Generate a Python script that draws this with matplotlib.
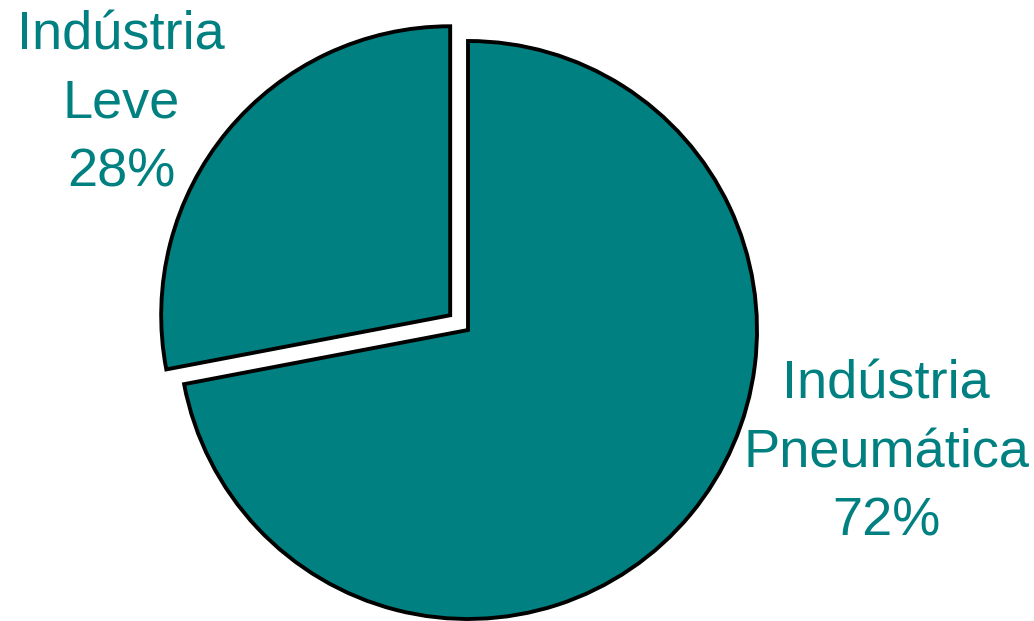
import matplotlib.pyplot as plt

labels = ["Indústria\nPneumática\n72%", "Indústria\nLeve\n28%"]
shares = [72, 28]
explode = [0, 0.08]
teal = "#008080"

fig = plt.figure(figsize=(10.34, 6.21), dpi=100)
ax = fig.add_axes([0, 0, 1, 1])

radius = 289
# pie() takes explode in data units, so scale by the radius
wedges, _ = ax.pie(shares, explode=[e * radius for e in explode],
                   startangle=90, counterclock=False,
                   colors=[teal, teal], center=(468, 291), radius=radius,
                   wedgeprops=dict(edgecolor="black", linewidth=2.8))

ax.set_xlim(0, 1034)
ax.set_ylim(0, 621)
ax.set_aspect("equal")
ax.axis("off")

font = dict(family="Liberation Sans", fontsize=39, color=teal,
            ha="center", va="center", linespacing=1.47)
ax.text(886, 168, labels[0], **font)
ax.text(121, 517, labels[1], **font)

fig.savefig("out.png", dpi=100)
